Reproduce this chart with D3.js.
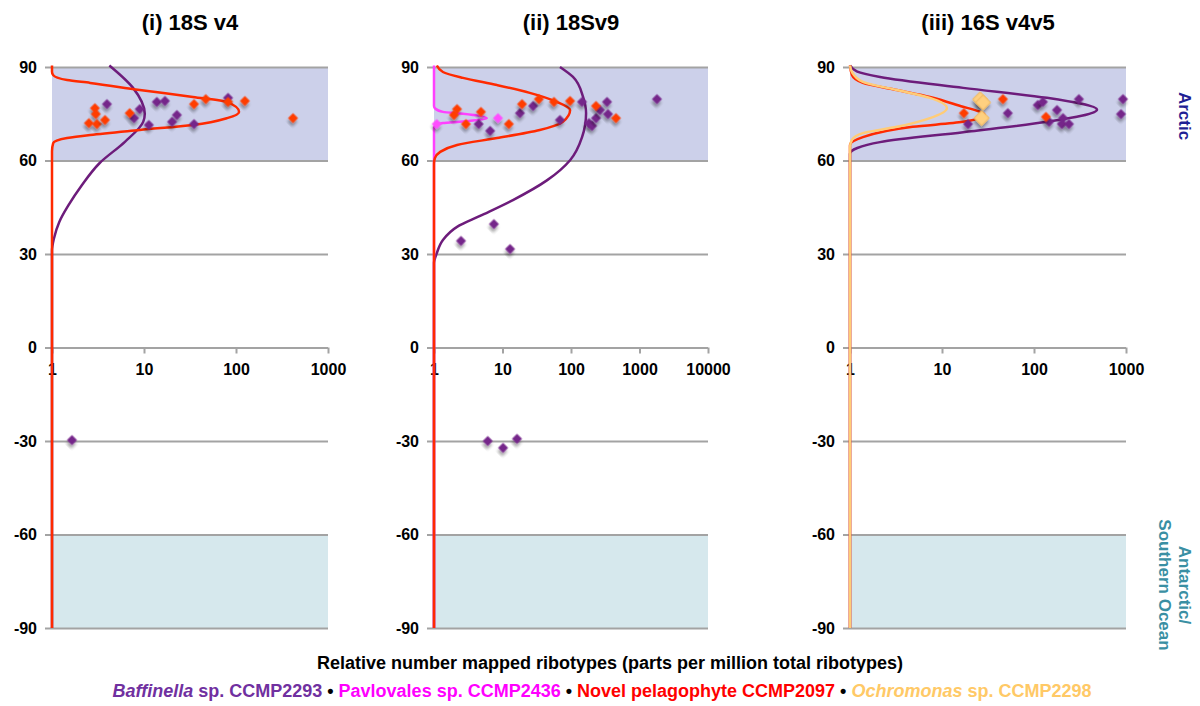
<!DOCTYPE html>
<html>
<head>
<meta charset="utf-8">
<script src="https://cdn.jsdelivr.net/npm/d3@7"></script>
<style>
  body { margin: 0; background: #fff; }
  svg { display: block; font-family: "Liberation Sans", Arial, sans-serif; }
</style>
</head>
<body>
<script>
// ---- data (ppm, latitude) ----
var panelTitles = ["(i) 18S v4", "(ii) 18Sv9", "(iii) 16S v4v5"];
var latTicks = [90, 60, 30, 0, -30, -60, -90];
var arcticBand = [60, 90];
var antarcticBand = [-90, -60];
var xTicks_i = [1, 10, 100, 1000];
var xTicks_ii = [1, 10, 100, 1000, 10000];
var xTicks_iii = [1, 10, 100, 1000];

// observed points [ppm, lat]
var pts_i_baffinella = [[3.96,78.1],[9.0,76.5],[7.8,73.6],[13.8,78.8],[16.9,79.1],[22.8,74.6],[11.3,71.4],[20.2,72.4],[35,71.7],[82,80.1],[1.65,-29.7]];
var pts_i_pelagophyte = [[2.93,76.8],[3.0,74.9],[2.52,72.0],[3.08,71.7],[3.77,73.0],[7.0,75.2],[35,78.1],[47,79.7],[82,78.8],[125,79.1],[417,73.6]];

var pts_ii_baffinella = [[4.5,71.7],[6.6,69.5],[18,75.2],[28,77.5],[69,73.0],[145,78.8],[183,72.0],[203,71.1],[232,73.6],[265,76.2],[336,78.8],[347,74.9],[1800,79.7],[2.48,34.2],[7.5,39.6],[12.9,31.6],[6.1,-30.0],[10.2,-32.2],[16.3,-29.3]];
var pts_ii_pavlovales = [[1.1,71.7],[8.6,73.6]];
var pts_ii_pelagophyte = [[2.17,76.5],[1.96,74.6],[4.85,75.6],[2.93,71.7],[12.4,71.7],[19.3,78.1],[34,79.7],[56.5,78.8],[97,79.1],[232,77.5],[454,73.6]];

var pts_iii_baffinella = [[19.2,71.7],[52,75.2],[110,77.8],[125,78.8],[178,76.2],[207,73.6],[146,72.4],[201,71.7],[240,71.7],[308,79.7],[928,79.7],[883,74.9]];
var pts_iii_pelagophyte = [[17.3,75.2],[46,79.7],[135,74.0]];
var pts_iii_ochromonas = [[26,79.6],[28,78.6],[27,73.6]];

// fitted distribution curves [ppm, lat]
var fit_i_baffinella = [[4.2,90.5],[7.6,83.3],[10.2,75],[9.8,72.4],[6.2,66],[3.3,59.2],[2.1,52],[1.5,45.5],[1.2,40.3],[1.05,35],[1,31],[1,-90]];
var fit_i_pelagophyte = [[1,90.5],[1,88.5],[1.03,87.4],[1.46,85.8],[2.6,84.9],[9.0,82.6],[34,80.4],[80,78.8],[108,75.6],[80,73.6],[34,71.4],[9,69.8],[2.6,68.2],[1.46,67.2],[1.03,65.6],[1,63],[1,-90]];

var fit_ii_baffinella = [[69,90],[107,86.8],[150,80.4],[166,75.2],[145,67.5],[97,60.1],[45,53.7],[14.2,47.3],[4.7,42.2],[2.17,38.7],[1.35,34.5],[1.1,30.3],[1,27],[1,-90]];
var fit_ii_pavlovales = [[1,90.5],[1,77.5],[1.05,76.6],[1.35,75.6],[2.65,75.0],[5.9,73.6],[2.65,72.5],[1.35,72.0],[1.05,71.3],[1,70.5],[1,-90]];
var fit_ii_pelagophyte = [[1.1,90.5],[1.35,88.4],[2.65,86.5],[8.3,84.2],[25,81.7],[62,78.8],[97,76.2],[76,72.4],[35,69.8],[8.3,67.2],[2.17,65.0],[1.22,62.7],[1.03,60.8],[1,59],[1,-90]];

var fit_iii_baffinella = [[1,90.5],[1.2,88.5],[2.12,86.8],[17,83.3],[138,80.1],[484,76.3],[138,72.4],[17,69.1],[2.12,65.9],[1.2,64],[1,62.2],[1,-90]];
var fit_iii_pelagophyte = [[1,90.5],[1.05,87.4],[1.38,84.9],[3.24,82.6],[7.4,80.4],[14.6,77.8],[29,74.6],[16.9,72.4],[4.8,70.8],[1.38,67.5],[1,65],[1,-90]];
var fit_iii_ochromonas = [[1,90.5],[1.05,88.4],[1.38,85.2],[3.24,82.6],[7.4,80.1],[11.3,76.8],[7.4,73.6],[3.24,70.8],[1.38,68.8],[1.05,66.6],[1,64.3],[1,-90]];

// ---- styles ----
var colors = {
  baffinella: {line: "#6d1c7b", point: "#74258a"},
  pavlovales: {line: "#ff40ff", point: "#ff4dff"},
  pelagophyte: {line: "#ff2a00", point: "#ff3c00"},
  ochromonas: {line: "#ffcc77", point: "#ffd080"}
};

var panels = [
  {title: panelTitles[0], x0: 52, x1: 328, ticks: xTicks_i,
   curves: [["baffinella", fit_i_baffinella], ["pelagophyte", fit_i_pelagophyte]],
   points: [["baffinella", pts_i_baffinella], ["pelagophyte", pts_i_pelagophyte]]},
  {title: panelTitles[1], x0: 434, x1: 708, ticks: xTicks_ii,
   curves: [["baffinella", fit_ii_baffinella], ["pavlovales", fit_ii_pavlovales], ["pelagophyte", fit_ii_pelagophyte]],
   points: [["baffinella", pts_ii_baffinella], ["pavlovales", pts_ii_pavlovales], ["pelagophyte", pts_ii_pelagophyte]]},
  {title: panelTitles[2], x0: 850, x1: 1126, ticks: xTicks_iii,
   curves: [["baffinella", fit_iii_baffinella], ["pelagophyte", fit_iii_pelagophyte], ["ochromonas", fit_iii_ochromonas]],
   points: [["baffinella", pts_iii_baffinella], ["pelagophyte", pts_iii_pelagophyte], ["ochromonas", pts_iii_ochromonas]]}
];

var svg = d3.select("body").append("svg")
    .attr("width", 1200)
    .attr("height", 706);

var defs = svg.append("defs");
defs.append("filter")
    .attr("id", "shadow")
    .attr("x", "-60%").attr("y", "-60%").attr("width", "220%").attr("height", "220%")
  .append("feDropShadow")
    .attr("dx", 2).attr("dy", 3)
    .attr("stdDeviation", 1.6)
    .attr("flood-color", "#000")
    .attr("flood-opacity", 0.35);

var y = d3.scaleLinear().domain([-90, 90]).range([628, 67]);

panels.forEach(function(p) {
  var x = d3.scaleLog()
      .domain([p.ticks[0], p.ticks[p.ticks.length - 1]])
      .range([p.x0, p.x1]);
  var g = svg.append("g");

  // shaded regions
  g.append("rect")
      .attr("x", p.x0).attr("width", p.x1 - p.x0)
      .attr("y", y(arcticBand[1])).attr("height", y(arcticBand[0]) - y(arcticBand[1]))
      .attr("fill", "#ccd0ea");
  g.append("rect")
      .attr("x", p.x0).attr("width", p.x1 - p.x0)
      .attr("y", y(antarcticBand[1])).attr("height", y(antarcticBand[0]) - y(antarcticBand[1]))
      .attr("fill", "#d6e8ed");

  // latitude grid + labels
  var yAxis = g.append("g")
      .attr("transform", "translate(" + (p.x0 - 7) + ",0)")
      .call(d3.axisLeft(y)
        .tickValues(latTicks)
        .tickSize(-(p.x1 - p.x0 + 7))
        .tickPadding(8)
        .tickFormat(function(d) { return String(d); }));
  yAxis.select(".domain").remove();
  yAxis.selectAll("line").attr("stroke", "#a3a3a3").attr("stroke-width", 2);
  yAxis.selectAll("text")
      .attr("font-size", 16).attr("font-weight", "bold").attr("fill", "#000")
      .attr("font-family", "Liberation Sans, Arial, sans-serif");

  // log x axis on the equator line
  var xAxis = g.append("g")
      .attr("transform", "translate(0," + y(0) + ")")
      .call(d3.axisBottom(x)
        .tickValues(p.ticks)
        .tickSize(6)
        .tickPadding(10)
        .tickFormat(function(d) { return String(d); }));
  xAxis.select(".domain").remove();
  xAxis.selectAll("line").attr("stroke", "#a3a3a3").attr("stroke-width", 2);
  xAxis.selectAll("text")
      .attr("font-size", 16).attr("font-weight", "bold").attr("fill", "#000")
      .attr("font-family", "Liberation Sans, Arial, sans-serif");

  // title
  svg.append("text")
      .attr("x", (p.x0 + p.x1) / 2)
      .attr("y", 30)
      .attr("text-anchor", "middle")
      .attr("font-size", 22)
      .attr("font-weight", "bold")
      .text(p.title);

  // curves
  var line = d3.line()
      .x(function(d) { return x(d[0]); })
      .y(function(d) { return y(d[1]); })
      .curve(d3.curveMonotoneY);
  p.curves.forEach(function(c) {
    g.append("path")
        .datum(c[1])
        .attr("d", line)
        .attr("fill", "none")
        .attr("stroke", colors[c[0]].line)
        .attr("stroke-width", 2.5);
  });

  // points
  p.points.forEach(function(s) {
    var big = s[0] == "ochromonas";
    var sym = d3.symbol().type(d3.symbolSquare).size(big ? 110 : 50);
    g.append("g").selectAll("path")
        .data(s[1])
      .enter().append("path")
        .attr("d", sym)
        .attr("transform", function(d) {
          return "translate(" + x(d[0]) + "," + y(d[1]) + ") rotate(45)";
        })
        .attr("fill", colors[s[0]].point)
        .attr("stroke", big ? "#f0b860" : "none")
        .attr("stroke-width", big ? 1 : 0)
        .attr("filter", "url(#shadow)");
  });
});

// x-axis title
svg.append("text")
    .attr("x", 610)
    .attr("y", 669)
    .attr("text-anchor", "middle")
    .attr("font-size", 18)
    .attr("font-weight", "bold")
    .text("Relative number mapped ribotypes (parts per million total ribotypes)");

// legend
var legend = svg.append("text")
    .attr("x", 602)
    .attr("y", 697)
    .attr("text-anchor", "middle")
    .attr("font-family", "Liberation Sans Narrow, Arial Narrow, sans-serif")
    .attr("font-size", 18)
    .attr("font-weight", "bold");
var legendParts = [
  ["Baffinella", "#7030a0", true], [" sp. CCMP2293", "#7030a0", false], [" \u2022 ", "#000", false],
  ["Pavlovales sp. CCMP2436", "#ff00ff", false], [" \u2022 ", "#000", false],
  ["Novel pelagophyte CCMP2097", "#ff0000", false], [" \u2022 ", "#000", false],
  ["Ochromonas", "#ffc966", true], [" sp. CCMP2298", "#ffc966", false]
];
legendParts.forEach(function(t) {
  legend.append("tspan")
      .attr("fill", t[1])
      .attr("font-style", t[2] ? "italic" : "normal")
      .text(t[0]);
});

// region labels on the right
svg.append("text")
    .attr("transform", "translate(1179,116) rotate(90)")
    .attr("text-anchor", "middle")
    .attr("font-size", 17)
    .attr("font-weight", "bold")
    .attr("fill", "#1f1f94")
    .text("Arctic");
var ant = svg.append("text")
    .attr("transform", "translate(1179,585) rotate(90)")
    .attr("text-anchor", "middle")
    .attr("font-size", 17)
    .attr("font-weight", "bold")
    .attr("fill", "#3a8fa3");
ant.append("tspan").attr("x", 0).attr("dy", 0).text("Antarctic/");
ant.append("tspan").attr("x", 0).attr("dy", 20).text("Southern Ocean");
</script>
</body>
</html>
